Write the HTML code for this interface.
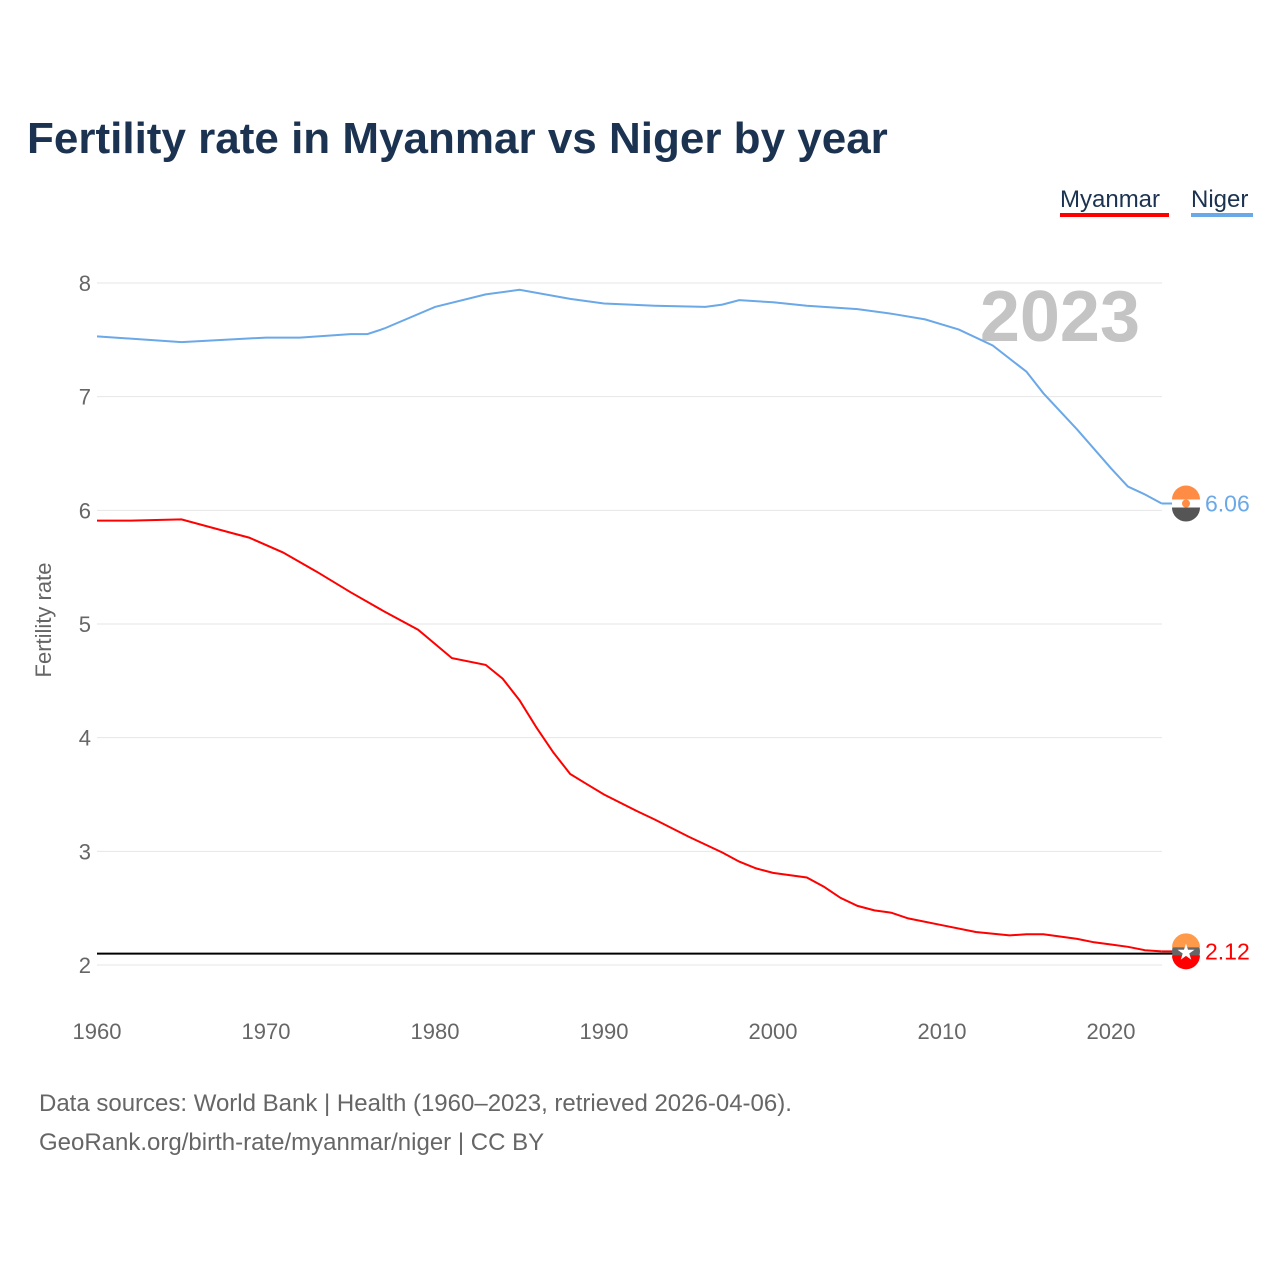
<!DOCTYPE html>
<html><head><meta charset="utf-8">
<style>
body{margin:0;background:#fff;font-family:"Liberation Sans",sans-serif;}
svg text{font-family:"Liberation Sans",sans-serif;}
</style></head>
<body>
<svg id="chart" width="1280" height="1280" viewBox="0 0 1280 1280">
<rect width="1280" height="1280" fill="#fff"/>
<text x="27" y="153" font-size="44" font-weight="bold" fill="#1b3350">Fertility rate in Myanmar vs Niger by year</text>
<g>
<text x="1060" y="207" font-size="24" fill="#1b3350">Myanmar</text>
<rect x="1060" y="213" width="109" height="4" fill="#ff0000"/>
<text x="1191" y="207" font-size="24" fill="#1b3350">Niger</text>
<rect x="1191" y="213" width="62" height="4" fill="#6aa8e8"/>
</g>
<text x="1140" y="341" font-size="72" font-weight="bold" fill="#c4c4c4" text-anchor="end">2023</text>
<g id="grid"></g>
<g id="axes"></g>
<text transform="translate(51,620) rotate(-90)" font-size="22" fill="#666" text-anchor="middle">Fertility rate</text>
<g id="series"></g>
<text x="39" y="1111" font-size="24" fill="#666">Data sources: World Bank | Health (1960–2023, retrieved 2026-04-06).</text>
<text x="39" y="1150" font-size="24" fill="#666">GeoRank.org/birth-rate/myanmar/niger | CC BY</text>
</svg>
<script>
const yTicks=[2,3,4,5,6,7,8];
const xTicks=[1960,1970,1980,1990,2000,2010,2020];
const nigerYears=[1960,1965,1970,1972,1975,1976,1977,1980,1983,1985,1988,1990,1993,1996,1997,1998,2000,2002,2005,2007,2009,2011,2013,2015,2016,2018,2020,2021,2022,2023];
const nigerValues=[7.53,7.48,7.52,7.52,7.55,7.55,7.60,7.79,7.90,7.94,7.86,7.82,7.80,7.79,7.81,7.85,7.83,7.80,7.77,7.73,7.68,7.59,7.45,7.22,7.03,6.71,6.37,6.21,6.14,6.06];
const myanmarYears=[1960,1962,1965,1968,1969,1971,1973,1975,1977,1979,1981,1983,1984,1985,1986,1987,1988,1989,1990,1992,1993,1995,1997,1998,1999,2000,2002,2003,2004,2005,2006,2007,2008,2010,2012,2014,2015,2016,2018,2019,2020,2021,2022,2023];
const myanmarValues=[5.91,5.91,5.92,5.80,5.76,5.63,5.46,5.28,5.11,4.95,4.70,4.64,4.52,4.33,4.09,3.87,3.68,3.59,3.50,3.35,3.28,3.13,2.99,2.91,2.85,2.81,2.77,2.69,2.59,2.52,2.48,2.46,2.41,2.35,2.29,2.26,2.27,2.27,2.23,2.20,2.18,2.16,2.13,2.12];
const replacementRate=[2.1];
const NS='http://www.w3.org/2000/svg';
const xs=y=>97+(y-1960)*(1111-97)/60;
const ys=v=>965-(v-2)*(965-283)/6;
function mk(tag,attrs,parent){const e=document.createElementNS(NS,tag);for(const k in attrs)e.setAttribute(k,attrs[k]);parent.appendChild(e);return e;}
const grid=document.getElementById('grid'),axes=document.getElementById('axes'),series=document.getElementById('series');
yTicks.forEach(t=>{
 const l=mk('line',{x1:97,x2:1162,y1:ys(t),y2:ys(t),stroke:'#e6e6e6','stroke-width':1},grid);
 
 
 const tx=mk('text',{x:91,y:ys(t)+8,'font-size':22,fill:'#666','text-anchor':'end'},axes);
 tx.textContent=t;
 
 
});
xTicks.forEach(t=>{
 const tx=mk('text',{x:xs(t),y:1039,'font-size':22,fill:'#666','text-anchor':'middle'},axes);
 tx.textContent=t;
 
 
});
const rl=mk('line',{x1:97,x2:1186,y1:ys(replacementRate[0]),y2:ys(replacementRate[0]),stroke:'#000','stroke-width':2},series);


function line(years,vals,color,name){
 const d=years.map((y,i)=>(i?'L':'M')+xs(y).toFixed(1)+','+ys(vals[i]).toFixed(1)).join('');
 const p=mk('path',{d:d,fill:'none',stroke:color,'stroke-width':2},series);
 
 
 const lx=xs(years[years.length-1]),ly=ys(vals[vals.length-1]);
 const c=mk('line',{x1:lx,x2:1186,y1:ly,y2:ly,stroke:color,'stroke-width':2},series);
 
 
 const t=mk('text',{x:1205,y:ly+8,'font-size':23,fill:color},series);
 t.textContent=vals[vals.length-1].toFixed(2);
 
 
 return ly;
}
const ny=line(nigerYears,nigerValues,'#6aa8e8','niger');
const my=line(myanmarYears,myanmarValues,'#ff0000','myanmar');
// Niger flag
const nf=mk('g',{},series);


mk('circle',{cx:1186,cy:ny,r:14,fill:'#fff'},nf);
mk('path',{d:`M1172,${ny-4}A14,14 0 0 1 1200,${ny-4}Z`,fill:'#ff8c45'},nf);
mk('path',{d:`M1172,${ny+4}A14,14 0 0 0 1200,${ny+4}Z`,fill:'#555'},nf);
mk('circle',{cx:1186,cy:ny,r:4,fill:'#ff8c45'},nf);
// Myanmar flag
const mf=mk('g',{},series);


mk('circle',{cx:1186,cy:my,r:14,fill:'#666'},mf);
mk('path',{d:`M1172,${my-4}A14,14 0 0 1 1200,${my-4}Z`,fill:'#ff9a4a'},mf);
mk('path',{d:`M1172,${my+4}A14,14 0 0 0 1200,${my+4}Z`,fill:'#ff0000'},mf);
const st=mk('text',{x:1186,y:my+8,'font-size':22,fill:'#fff','text-anchor':'middle'},mf);
st.textContent='★';
</script>
</body></html>
